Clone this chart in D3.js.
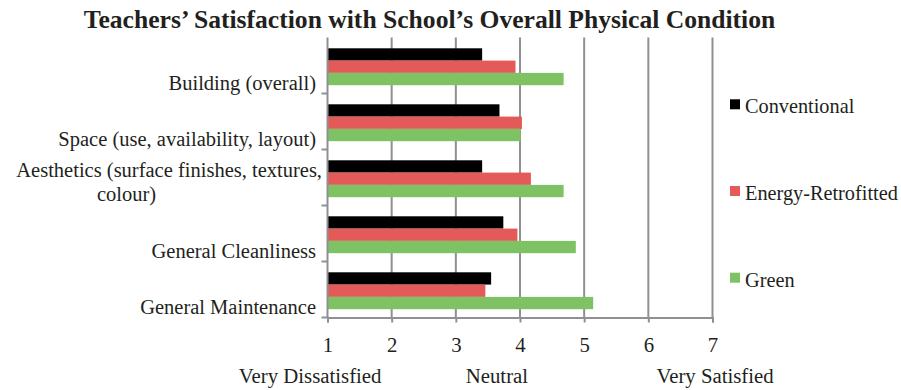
<!DOCTYPE html>
<html>
<head>
<meta charset="utf-8">
<script src="https://cdn.jsdelivr.net/npm/d3@7/dist/d3.min.js"></script>
<style>
  html, body { margin: 0; padding: 0; background: #fff; }
  svg { display: block; }
</style>
</head>
<body>
<svg id="chart" width="901" height="390"></svg>
<script>
// Satisfaction items (top to bottom) and mean ratings on a 1–7 scale
const categories = [
  "Building (overall)",
  "Space (use, availability, layout)",
  "Aesthetics (surface finishes, textures, colour)",
  "General Cleanliness",
  "General Maintenance"
];
const seriesNames = ["Conventional", "Energy-Retrofitted", "Green"];
const conventional = [3.41, 3.68, 3.41, 3.74, 3.55];
const energyRetrofitted = [3.93, 4.03, 4.17, 3.96, 3.46];
const green = [4.68, 4.01, 4.68, 4.87, 5.14];
const seriesValues = [conventional, energyRetrofitted, green];
const tickValues = [1, 2, 3, 4, 5, 6, 7];
const scaleLabels = [
  { value: 0.73, text: "Very Dissatisfied" },
  { value: 3.64, text: "Neutral" },
  { value: 7.04, text: "Very Satisfied" }
];
const colors = ["#000000", "#e35a59", "#7fc264"];

const FONT = "'Liberation Serif', 'Times New Roman', serif";
const INK = "#231f20";
const GRID = "#909094";

const svg = d3.select("#chart");
const margin = { left: 327.5, right: 188.5, top: 37.5, bottom: 72.5 };
const W = 901, H = 390;

const x = d3.scaleLinear().domain([1, 7]).range([margin.left, W - margin.right]);
const y = d3.scaleBand().domain(categories).range([margin.top, H - margin.bottom]);
const barH = 12.3;
const groupOffset = 10.8;

// Title
svg.append("text")
  .attr("x", 429.5).attr("y", 28)
  .attr("text-anchor", "middle")
  .attr("font-family", FONT).attr("font-size", 25.6).attr("font-weight", "bold")
  .attr("fill", INK)
  .text("Teachers\u2019 Satisfaction with School\u2019s Overall Physical Condition");

// Vertical gridlines
svg.append("g").selectAll("line")
  .data(tickValues.slice(1))
  .join("line")
  .attr("x1", d => x(d)).attr("x2", d => x(d))
  .attr("y1", margin.top).attr("y2", H - margin.bottom)
  .attr("stroke", GRID).attr("stroke-width", 2);

// Bars
const groups = svg.append("g").selectAll("g")
  .data(categories)
  .join("g")
  .attr("transform", d => `translate(0,${y(d) + groupOffset})`);

groups.selectAll("rect")
  .data((d, i) => seriesValues.map((vals, s) => ({ s, v: vals[i] })))
  .join("rect")
  .attr("x", x(1))
  .attr("y", d => d.s * barH)
  .attr("width", d => x(d.v) - x(1))
  .attr("height", barH)
  .attr("fill", d => colors[d.s]);

// Bottom axis
const xAxis = d3.axisBottom(x).tickValues(tickValues).tickSize(5).tickPadding(15)
  .tickFormat(d3.format("d"));
const gx = svg.append("g").attr("transform", `translate(0,${H - margin.bottom})`).call(xAxis);
gx.attr("font-family", FONT).attr("font-size", 20.8);
gx.select(".domain").attr("stroke", GRID).attr("stroke-width", 2);
gx.selectAll(".tick line").attr("stroke", GRID).attr("stroke-width", 2);
gx.selectAll(".tick text").attr("fill", INK);

// Left axis with ticks at category boundaries
const gy = svg.append("g");
gy.append("line")
  .attr("x1", x(1)).attr("x2", x(1))
  .attr("y1", margin.top).attr("y2", H - margin.bottom)
  .attr("stroke", GRID).attr("stroke-width", 2);
gy.selectAll("line.tick")
  .data(categories)
  .join("line").attr("class", "tick")
  .attr("x1", x(1) - 6).attr("x2", x(1))
  .attr("y1", d => y(d) + y.bandwidth()).attr("y2", d => y(d) + y.bandwidth())
  .attr("stroke", GRID).attr("stroke-width", 2);

// Category labels, bottom-aligned in each band
const wrapped = {
  "Aesthetics (surface finishes, textures, colour)": [
    { t: "Aesthetics (surface finishes, textures,", x: 322, anchor: "end" },
    { t: "colour)", x: 97, anchor: "start" }
  ]
};
categories.forEach(c => {
  const lines = wrapped[c] || [{ t: c, x: 316, anchor: "end" }];
  const base = y(c) + y.bandwidth() - (lines.length > 1 ? 5 : 3.3);
  lines.forEach((ln, k) => {
    svg.append("text")
      .attr("x", ln.x)
      .attr("y", base - (lines.length - 1 - k) * 23.5)
      .attr("text-anchor", ln.anchor)
      .attr("font-family", FONT).attr("font-size", 20.5)
      .attr("fill", INK)
      .text(ln.t);
  });
});

// Scale anchor labels under the axis
svg.append("g").selectAll("text")
  .data(scaleLabels)
  .join("text")
  .attr("x", d => x(d.value))
  .attr("y", 383)
  .attr("text-anchor", "middle")
  .attr("font-family", FONT).attr("font-size", 20.8)
  .attr("fill", INK)
  .text(d => d.text);

// Legend
const legend = svg.append("g").selectAll("g")
  .data(seriesNames)
  .join("g")
  .attr("transform", (d, i) => `translate(730,${113.3 + i * 86.7})`);
legend.append("rect")
  .attr("y", -14)
  .attr("width", 10).attr("height", 10)
  .attr("fill", (d, i) => colors[i]);
legend.append("text")
  .attr("x", 15).attr("y", 0)
  .attr("font-family", FONT).attr("font-size", 20.3)
  .attr("fill", INK)
  .text(d => d);
</script>
</body>
</html>
